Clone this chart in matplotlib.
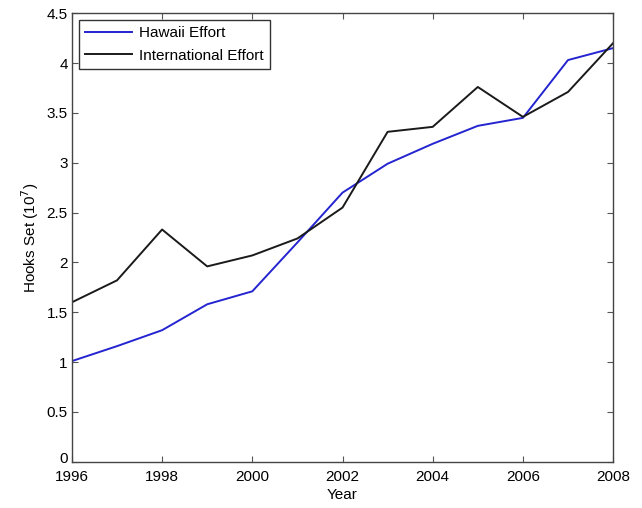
import numpy as np
import matplotlib.pyplot as plt
from matplotlib.transforms import ScaledTranslation

plt.rcParams['font.family'] = ['Liberation Sans', 'DejaVu Sans']

years = [1996, 1997, 1998, 1999, 2000, 2001, 2002, 2003, 2004, 2005, 2006, 2007, 2008]
hawaii = [1.01, 1.16, 1.32, 1.58, 1.71, 2.20, 2.70, 2.99, 3.19, 3.37, 3.45, 4.03, 4.15]
intl = [1.60, 1.82, 2.33, 1.96, 2.07, 2.24, 2.55, 3.31, 3.36, 3.76, 3.46, 3.71, 4.20]
ytick_labels = ['0', '0.5', '1', '1.5', '2', '2.5', '3', '3.5', '4', '4.5']

fig = plt.figure(figsize=(6.42, 5.08), dpi=100)
ax = fig.add_axes([0.112, 0.091, 0.843, 0.883])

ax.plot(years, hawaii, color='#2424d0', linewidth=1.4, label='Hawaii Effort')
ax.plot(years, intl, color='#1a1a1a', linewidth=1.4, label='International Effort')

ax.set_xlim(1996, 2008)
ax.set_ylim(0, 4.5)
ax.set_xticks(np.arange(1996, 2009, 2))
ax.set_yticks(np.arange(0, 4.51, 0.5))
ax.set_yticklabels(ytick_labels)
ax.tick_params(direction='in', top=True, right=True, labelsize=11, length=4,
               color='#555555', width=0.8)
ax.tick_params(axis='x', pad=6)
ax.tick_params(axis='y', pad=3)
# small nudge up for the "0" so it clears "1996"
lab0 = ax.get_yticklabels()[0]
lab0.set_transform(lab0.get_transform() + ScaledTranslation(0, 3 / 72, fig.dpi_scale_trans))
for s in ax.spines.values():
    s.set_linewidth(1.0)
    s.set_color('#444444')

ax.set_xlabel('Year', fontsize=11, labelpad=3)
ax.set_ylabel('Hooks Set (10$^7$)', fontsize=11, labelpad=4)

leg = ax.legend(loc='upper left', fontsize=11, fancybox=False, framealpha=1,
                edgecolor='#333333', handlelength=3.1, borderaxespad=0.45,
                handletextpad=0.45, labelspacing=0.55, borderpad=0.4)
leg.get_frame().set_linewidth(1.0)

fig.savefig('out.png', dpi=100)
